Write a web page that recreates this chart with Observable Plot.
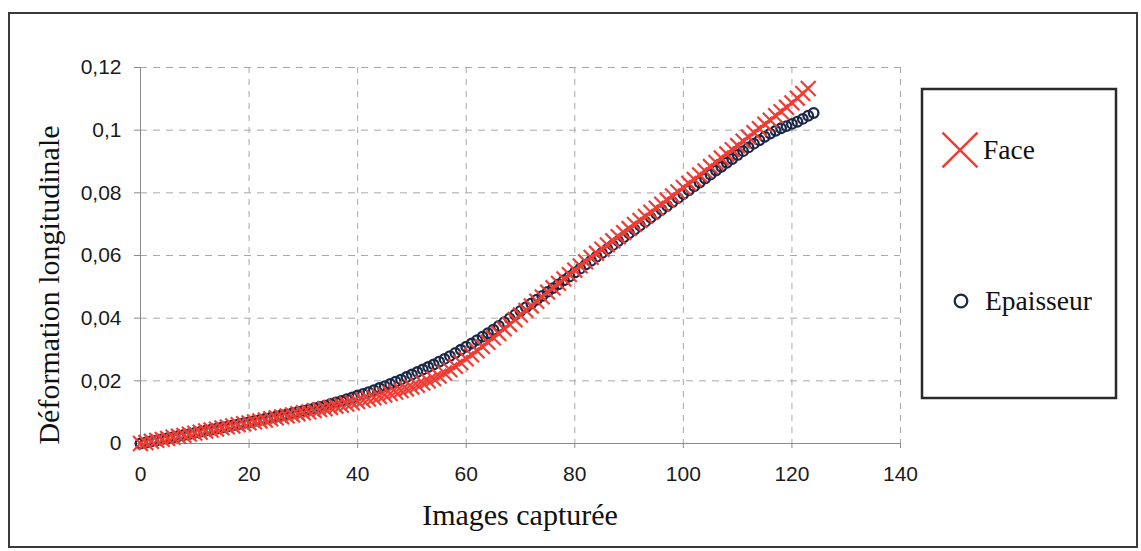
<!DOCTYPE html>
<html><head><meta charset="utf-8">
<script src="https://cdn.jsdelivr.net/npm/d3@7"></script>
<script src="https://cdn.jsdelivr.net/npm/@observablehq/plot@0.6"></script>
<style>
html,body{margin:0;padding:0;background:#fff;}
#wrap{position:relative;width:1141px;height:551px;overflow:hidden;background:#fff;}
#frame{position:absolute;left:8px;top:12px;width:1130px;height:536px;border:2px solid #3a3a3a;box-sizing:border-box;pointer-events:none;}
#wrap svg{position:absolute;left:0;top:0;}
</style></head><body><div id="wrap"><div id="frame"></div></div>
<script>
// ---- data ----
const seriesNames = ["Face", "Epaisseur"];
const xTitle = "Images capturée";
const yTitle = "Déformation longitudinale";
const xTicks = [0, 20, 40, 60, 80, 100, 120, 140];
const yTicks = [0, 0.02, 0.04, 0.06, 0.08, 0.1, 0.12];
const yTickLabels = ["0", "0,02", "0,04", "0,06", "0,08", "0,1", "0,12"];

// Face (red crosses), image 0 .. 123
const faceValues = [
  0.0000, 0.0003, 0.0007, 0.0010, 0.0013, 0.0016, 0.0020, 0.0023, 0.0026, 0.0030,
  0.0033, 0.0036, 0.0040, 0.0043, 0.0046, 0.0050, 0.0053, 0.0056, 0.0060, 0.0063,
  0.0066, 0.0069, 0.0072, 0.0075, 0.0079, 0.0082, 0.0085, 0.0088, 0.0091, 0.0095,
  0.0098, 0.0101, 0.0105, 0.0108, 0.0111, 0.0115, 0.0119, 0.0122, 0.0126, 0.0130,
  0.0134, 0.0138, 0.0142, 0.0146, 0.0150, 0.0155, 0.0159, 0.0164, 0.0169, 0.0174,
  0.0180, 0.0186, 0.0193, 0.0200, 0.0207, 0.0215, 0.0225, 0.0235, 0.0246, 0.0258,
  0.0270, 0.0283, 0.0296, 0.0309, 0.0323, 0.0337, 0.0351, 0.0366, 0.0380, 0.0395,
  0.0410, 0.0425, 0.0439, 0.0454, 0.0468, 0.0483, 0.0497, 0.0511, 0.0525, 0.0539,
  0.0553, 0.0567, 0.0580, 0.0594, 0.0607, 0.0620, 0.0634, 0.0647, 0.0660, 0.0673,
  0.0686, 0.0699, 0.0712, 0.0725, 0.0738, 0.0751, 0.0764, 0.0777, 0.0790, 0.0803,
  0.0817, 0.0830, 0.0843, 0.0857, 0.0870, 0.0884, 0.0897, 0.0911, 0.0924, 0.0938,
  0.0951, 0.0965, 0.0978, 0.0992, 0.1005, 0.1019, 0.1032, 0.1046, 0.1059, 0.1073,
  0.1087, 0.1102, 0.1117, 0.1133
];

// Epaisseur (navy circles), image 0 .. 124
const epaisseurValues = [
  0.0000, 0.0003, 0.0007, 0.0010, 0.0014, 0.0017, 0.0020, 0.0024, 0.0027, 0.0030,
  0.0034, 0.0037, 0.0041, 0.0044, 0.0047, 0.0051, 0.0054, 0.0058, 0.0061, 0.0065,
  0.0068, 0.0072, 0.0075, 0.0079, 0.0082, 0.0086, 0.0090, 0.0093, 0.0097, 0.0101,
  0.0105, 0.0109, 0.0113, 0.0117, 0.0121, 0.0126, 0.0131, 0.0136, 0.0141, 0.0147,
  0.0153, 0.0158, 0.0164, 0.0170, 0.0177, 0.0183, 0.0190, 0.0197, 0.0204, 0.0212,
  0.0220, 0.0228, 0.0236, 0.0244, 0.0252, 0.0261, 0.0270, 0.0279, 0.0289, 0.0299,
  0.0309, 0.0319, 0.0330, 0.0341, 0.0352, 0.0363, 0.0375, 0.0387, 0.0399, 0.0411,
  0.0423, 0.0435, 0.0447, 0.0459, 0.0471, 0.0484, 0.0496, 0.0508, 0.0521, 0.0533,
  0.0546, 0.0558, 0.0571, 0.0583, 0.0596, 0.0608, 0.0621, 0.0633, 0.0646, 0.0658,
  0.0671, 0.0683, 0.0696, 0.0708, 0.0721, 0.0733, 0.0746, 0.0758, 0.0771, 0.0783,
  0.0796, 0.0808, 0.0821, 0.0833, 0.0846, 0.0858, 0.0871, 0.0883, 0.0896, 0.0908,
  0.0921, 0.0933, 0.0945, 0.0957, 0.0968, 0.0979, 0.0989, 0.0998, 0.1006, 0.1013,
  0.1020, 0.1027, 0.1036, 0.1046, 0.1055
];

// ---- build ----
const faceData = faceValues.map((v, i) => ({x: i, y: v}));
const epData = epaisseurValues.map((v, i) => ({x: i, y: v}));
const yLabelMap = new Map(yTicks.map((t, i) => [t, yTickLabels[i]]));

const RED = "#ee3d34";
const NAVY = "#1b2947";
const GRID = "#a8a8a8";
const SANS = "Liberation Sans, Arial, sans-serif";
const SERIF = "Liberation Serif, Times New Roman, serif";

const chart = Plot.plot({
  width: 1141, height: 551,
  marginLeft: 140, marginRight: 241, marginTop: 67, marginBottom: 108,
  x: {domain: [0, 140]},
  y: {domain: [0, 0.12]},
  style: {background: "transparent", color: "#222", overflow: "visible"},
  marks: [
    Plot.gridX(xTicks.slice(1), {stroke: GRID, strokeOpacity: 1, strokeWidth: 1, strokeDasharray: "6,6"}),
    Plot.gridY(yTicks.slice(1), {stroke: GRID, strokeOpacity: 1, strokeWidth: 1, strokeDasharray: "7,6"}),
    Plot.ruleX([0], {stroke: "#8a8a8a", strokeWidth: 1}),
    Plot.ruleY([0], {stroke: "#8a8a8a", strokeWidth: 1}),
    Plot.axisX(xTicks, {label: null, tickSize: 5, tickPadding: 18, fontSize: 21, fontFamily: SANS, stroke: "#8a8a8a", fill: "#1a1a1a"}),
    Plot.axisY(yTicks, {label: null, tickSize: 6, tickPadding: 13, fontSize: 21, fontFamily: SANS, tickFormat: d => yLabelMap.get(d), stroke: "#8a8a8a", fill: "#1a1a1a"}),
    Plot.dot(epData, {x: "x", y: "y", r: 4.8, stroke: NAVY, strokeWidth: 2.3, fill: "none"}),
    Plot.dot(faceData, {x: "x", y: "y", symbol: "times", r: 6.8, stroke: RED, strokeWidth: 2.2})
  ]
});
document.getElementById("wrap").insertBefore(chart, document.getElementById("frame"));

const svg = d3.select(chart);
// axis titles
svg.append("text")
  .attr("transform", "translate(59,285) rotate(-90)")
  .attr("text-anchor", "middle")
  .attr("font-family", SERIF)
  .attr("font-size", 30).attr("fill", "#111")
  .text(yTitle);
svg.append("text")
  .attr("x", 520).attr("y", 525)
  .attr("text-anchor", "middle")
  .attr("font-family", SERIF)
  .attr("font-size", 30).attr("fill", "#111")
  .text(xTitle);

// legend
const lg = svg.append("g").attr("text-anchor", "start");
lg.append("rect").attr("x", 922).attr("y", 89).attr("width", 194).attr("height", 309)
  .attr("fill", "#fff").attr("stroke", "#2a2a2a").attr("stroke-width", 2.5);
lg.append("path").attr("transform", "translate(960,150)")
  .attr("d", d3.symbol(d3.symbolTimes, 800)())
  .attr("stroke", RED).attr("stroke-width", 2.5).attr("fill", "none");
lg.append("text").attr("x", 983).attr("y", 159).attr("text-anchor", "start")
  .attr("font-family", SERIF)
  .attr("font-size", 27.5).attr("fill", "#111").text(seriesNames[0]);
lg.append("circle").attr("cx", 961).attr("cy", 301).attr("r", 6.3)
  .attr("stroke", NAVY).attr("stroke-width", 2.3).attr("fill", "none");
lg.append("text").attr("x", 985).attr("y", 310).attr("text-anchor", "start")
  .attr("font-family", SERIF)
  .attr("font-size", 27.5).attr("fill", "#111").text(seriesNames[1]);
</script>
</body></html>
